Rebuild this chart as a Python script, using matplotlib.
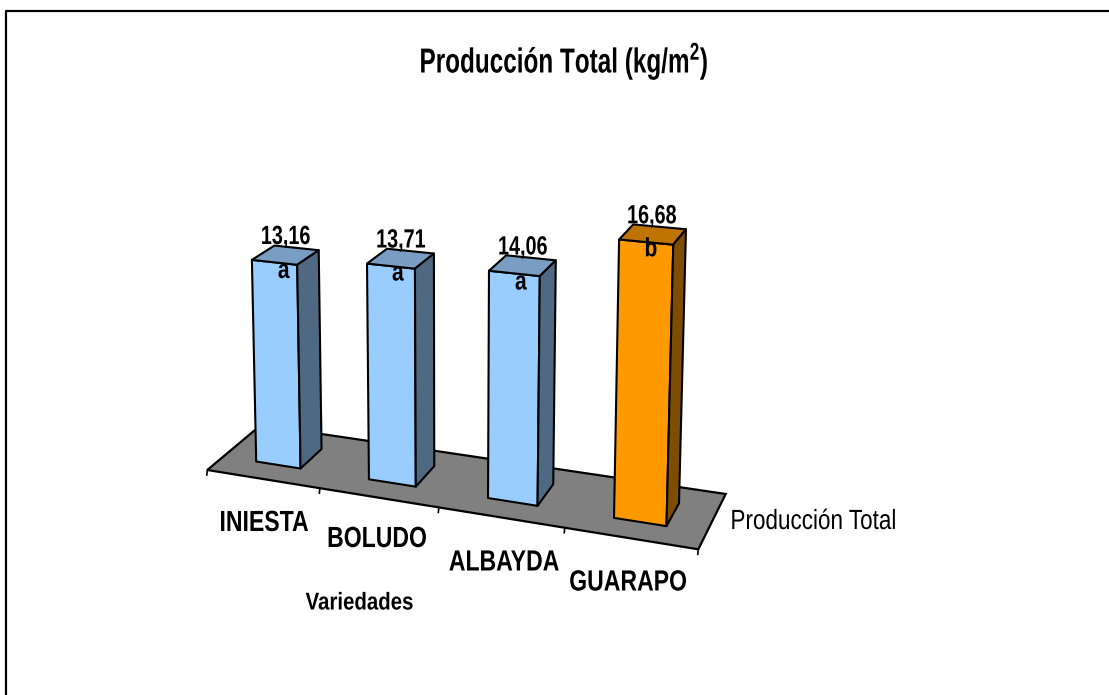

# -*- coding: utf-8 -*-
import numpy as np
import matplotlib
matplotlib.use('Agg')
import matplotlib.pyplot as plt
from matplotlib.patches import Polygon
from matplotlib.patheffects import AbstractPathEffect
from matplotlib.transforms import Affine2D

variedades = ['INIESTA', 'BOLUDO', 'ALBAYDA', 'GUARAPO']
produccion = [13.16, 13.71, 14.06, 16.68]
letras = ['a', 'a', 'a', 'b']

FONT = 'Liberation Sans'
BLUE = ('#99CCFF', '#7A9DC4', '#4F6983')
ORANGE = ('#FF9900', '#BF7300', '#7F4D00')
colores = [BLUE, BLUE, BLUE, ORANGE]

# floor corners in pixels: front-left, front-right, back-right, back-left
FLOOR = [(207.3, 470), (698.3, 549.3), (725.7, 494), (261, 425)]
VANISH = (450, 9500)  # where the vertical edges meet
C_Z = -0.001675
BAR = 0.4
GAP = 0.5


class Squeeze(AbstractPathEffect):
    """Narrow the glyphs, the reference uses a condensed face."""

    def __init__(self, sx, anchor='center'):
        super().__init__()
        self.sx = sx
        self.anchor = anchor

    def draw_path(self, renderer, gc, tpath, affine, rgbFace=None):
        box = tpath.get_extents()
        x0 = box.x0 if self.anchor == 'left' else (box.x0 + box.x1) / 2
        squeeze = Affine2D().translate(-x0, 0).scale(self.sx, 1).translate(x0, 0)
        renderer.draw_path(gc, tpath, squeeze + affine, rgbFace)


def floor_homography(corners):
    """Homography from the unit square to the floor corners."""
    square = [(0, 0), (1, 0), (1, 1), (0, 1)]
    A, b = [], []
    for (u, v), (x, y) in zip(square, corners):
        A.append([u, v, 1, 0, 0, 0, -u * x, -v * x])
        A.append([0, 0, 0, u, v, 1, -u * y, -v * y])
        b += [x, y]
    h = np.linalg.solve(np.array(A, float), np.array(b, float))
    return np.append(h, 1).reshape(3, 3)


H = floor_homography(FLOOR)


def project(u, v, z=0.0):
    """Perspective projection of category/depth/value to pixels."""
    p = H @ np.array([u, v, 1.0])
    cz = C_Z * z
    w = p[2] + cz
    return (p[0] + cz * VANISH[0]) / w, (p[1] + cz * VANISH[1]) / w


def draw_bar(ax, i, value, color):
    u0 = (i + GAP - BAR / 2) / len(variedades)
    u1 = (i + GAP + BAR / 2) / len(variedades)
    v0, v1 = 0.29, 0.71
    front = [project(u0, v0), project(u1, v0),
             project(u1, v0, value), project(u0, v0, value)]
    top = [project(u0, v0, value), project(u1, v0, value),
           project(u1, v1, value), project(u0, v1, value)]
    side = [project(u1, v0), project(u1, v1),
            project(u1, v1, value), project(u1, v0, value)]
    for pts, c in zip((front, top, side), color):
        ax.add_patch(Polygon(pts, closed=True, fc=c, ec='black', lw=1.5,
                             joinstyle='round', zorder=3))


def label(ax, x, y, s, size, sx, weight='bold', ha='center'):
    t = ax.text(x, y, s, family=FONT, weight=weight, fontsize=size, ha=ha,
                va='center', zorder=4)
    t.set_path_effects([Squeeze(sx, ha)])
    return t


fig = plt.figure(figsize=(11.09, 6.95), dpi=100)
ax = fig.add_axes([0, 0, 1, 1])
ax.set_xlim(0, 1109)
ax.set_ylim(695, 0)
ax.axis('off')

# outer frame, runs off the right and bottom of the picture
ax.plot([5.5, 5.5, 1109], [695, 11, 11], color='black', lw=1.6)

ax.add_patch(Polygon(FLOOR, closed=True, fc='#808080', ec='black', lw=1.6,
                     zorder=1))
for k in range(len(variedades) + 1):
    x, y = project(k / len(variedades), 0)
    ax.plot([x, x - 0.5], [y, y + 5], color='black', lw=1.2, zorder=1)

for i, value in enumerate(produccion):
    draw_bar(ax, i, value, colores[i])

# value labels and significance letters, offset from the centre of each top
label_off = [(0, -18), (0, -18), (0, -18), (-1, -18)]
letter_off = [(-2, 16), (-3, 15), (-2, 17), (-2, 15)]
for i, value in enumerate(produccion):
    x, y = project((i + GAP) / len(variedades), 0.5, value)
    label(ax, x + label_off[i][0], y + label_off[i][1],
          ('%.2f' % value).replace('.', ','), 19, 0.75)
    label(ax, x + letter_off[i][0], y + letter_off[i][1], letras[i], 19, 0.8)

name_pos = [(264, 523), (377, 539), (504, 562.5), (628, 582.5)]
for name, (x, y) in zip(variedades, name_pos):
    label(ax, x, y, name, 21, 0.79)

label(ax, 359.5, 603, 'Variedades', 17.5, 0.84)
label(ax, 730, 522, 'Producción Total', 20, 0.81, weight='normal', ha='left')
label(ax, 564, 61, 'Producción Total (kg/m$\\mathregular{^{2}}$)', 25, 0.70)

fig.savefig('out.png', dpi=100)
